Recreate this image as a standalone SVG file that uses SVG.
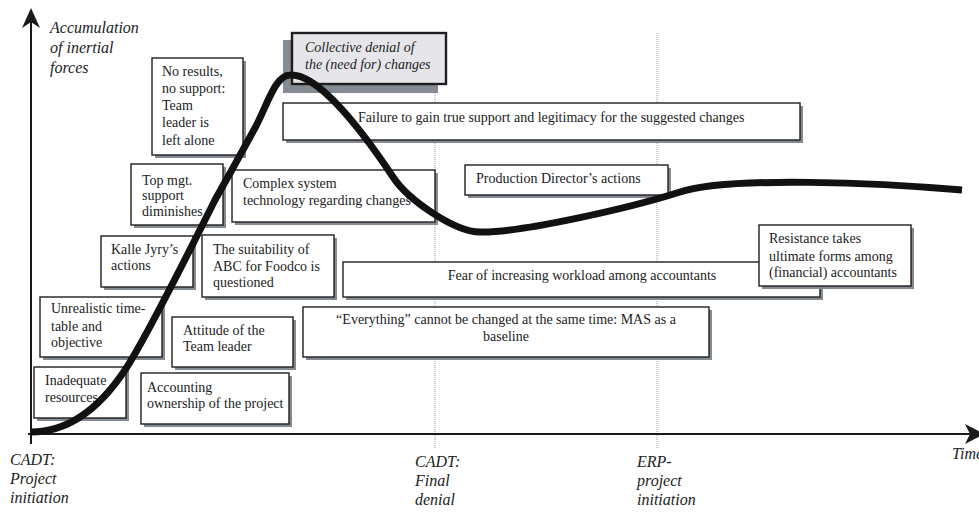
<svg xmlns="http://www.w3.org/2000/svg" width="979" height="512" viewBox="0 0 979 512">
<style>
  .bx{fill:#fff;stroke:#1e1e1e;stroke-width:1.4}
  .sh{fill:#858b93}
  .t{font-family:"Liberation Serif","Times New Roman",serif;font-size:14px;fill:#222}
  .it{font-family:"Liberation Serif","Times New Roman",serif;font-size:16px;font-style:italic;fill:#222}
  .dot{stroke:#9a9a9a;stroke-width:1;stroke-dasharray:1 1;fill:none}
</style>
<rect width="979" height="512" fill="#fff"/>
<g id="guides">
  <line class="dot" x1="435" y1="93" x2="435" y2="448"/>
  <line class="dot" x1="657" y1="33" x2="657" y2="448"/>
</g>
<g id="axes">
  <line x1="31" y1="444" x2="31" y2="20" stroke="#1a1a1a" stroke-width="2"/>
  <path d="M31,8 L22,28 L31,22 L40,28 Z" fill="#1a1a1a"/>
  <line x1="28" y1="434" x2="975" y2="434" stroke="#1a1a1a" stroke-width="2.2"/>
  <path d="M984,434 L965,424 L970,434 L965,444 Z" fill="#1a1a1a"/>
  <text class="it" x="50" y="33">Accumulation</text>
  <text class="it" x="50" y="53">of inertial</text>
  <text class="it" x="50" y="73">forces</text>
  <text class="it" x="952" y="459">Time</text>
  <text class="it" x="10" y="465">CADT:</text>
  <text class="it" x="10" y="484">Project</text>
  <text class="it" x="10" y="503">initiation</text>
  <text class="it" x="415" y="467">CADT:</text>
  <text class="it" x="415" y="486">Final</text>
  <text class="it" x="415" y="505">denial</text>
  <text class="it" x="637" y="467">ERP-</text>
  <text class="it" x="637" y="486">project</text>
  <text class="it" x="637" y="505">initiation</text>
</g>
<g id="n-noresults">
  <rect class="sh" x="155" y="61" width="91" height="97"/>
  <rect class="bx" x="152" y="58" width="91" height="97"/>
  <text class="t" x="162" y="76">No results,</text>
  <text class="t" x="162" y="93">no support:</text>
  <text class="t" x="162" y="110">Team</text>
  <text class="t" x="162" y="127">leader is</text>
  <text class="t" x="162" y="145">left alone</text>
</g>
<g id="n-collective">
  <rect class="sh" x="283" y="40" width="155" height="53"/>
  <rect x="292" y="33" width="154" height="51" fill="#e6e6ea" stroke="#1e1e1e" stroke-width="2.4"/>
  <text class="t" x="305" y="52" font-style="italic">Collective denial of</text>
  <text class="t" x="305" y="69" font-style="italic">the (need for) changes</text>
</g>
<g id="n-failure">
  <rect class="sh" x="286" y="106" width="517" height="37"/>
  <rect class="bx" x="283" y="103" width="517" height="37" stroke-width="2"/>
  <text class="t" x="358" y="122">Failure to gain true support and legitimacy for the suggested changes</text>
</g>
<g id="n-production">
  <rect class="sh" x="468" y="168" width="203" height="30"/>
  <rect class="bx" x="465" y="165" width="203" height="30"/>
  <text class="t" x="476" y="183">Production Director’s actions</text>
</g>
<g id="n-complex">
  <rect class="sh" x="235" y="173" width="203" height="52"/>
  <rect class="bx" x="232" y="170" width="203" height="52"/>
  <text class="t" x="243" y="188">Complex system</text>
  <text class="t" x="243" y="205">technology regarding changes</text>
</g>
<g id="n-topmgt">
  <rect class="sh" x="134" y="167" width="92" height="61"/>
  <rect class="bx" x="131" y="164" width="92" height="61"/>
  <text class="t" x="142" y="185">Top mgt.</text>
  <text class="t" x="142" y="200">support</text>
  <text class="t" x="142" y="216">diminishes</text>
</g>
<g id="n-kalle">
  <rect class="sh" x="104" y="239" width="92" height="51"/>
  <rect class="bx" x="101" y="236" width="92" height="51"/>
  <text class="t" x="111" y="254">Kalle  Jyry’s</text>
  <text class="t" x="111" y="270">actions</text>
</g>
<g id="n-suitability">
  <rect class="sh" x="205" y="238" width="132" height="62"/>
  <rect class="bx" x="202" y="235" width="132" height="62"/>
  <text class="t" x="213" y="254">The suitability of</text>
  <text class="t" x="213" y="271">ABC for Foodco is</text>
  <text class="t" x="213" y="287">questioned</text>
</g>
<g id="n-unrealistic">
  <rect class="sh" x="43" y="300" width="122" height="60"/>
  <rect class="bx" x="40" y="297" width="122" height="60"/>
  <text class="t" x="51" y="313">Unrealistic time-</text>
  <text class="t" x="51" y="331">table and</text>
  <text class="t" x="51" y="347">objective</text>
</g>
<g id="n-attitude">
  <rect class="sh" x="175" y="320" width="121" height="50"/>
  <rect class="bx" x="172" y="317" width="121" height="50"/>
  <text class="t" x="183" y="335">Attitude of the</text>
  <text class="t" x="183" y="351">Team leader</text>
</g>
<g id="n-inadequate">
  <rect class="sh" x="37" y="370" width="92" height="51"/>
  <rect class="bx" x="34" y="367" width="92" height="51"/>
  <text class="t" x="45" y="385">Inadequate</text>
  <text class="t" x="45" y="402">resources</text>
</g>
<g id="n-accounting">
  <rect class="sh" x="144" y="376" width="148" height="51"/>
  <rect class="bx" x="141" y="373" width="148" height="51"/>
  <text class="t" x="147" y="392">Accounting</text>
  <text class="t" x="147" y="408">ownership of the project</text>
</g>
<g id="n-fear">
  <rect class="sh" x="346" y="265" width="477" height="35"/>
  <rect class="bx" x="343" y="262" width="477" height="35"/>
  <text class="t" x="582" y="280" text-anchor="middle">Fear of increasing workload among accountants</text>
</g>
<g id="n-everything">
  <rect class="sh" x="306" y="310" width="406" height="50"/>
  <rect class="bx" x="303" y="307" width="406" height="50"/>
  <text class="t" x="506" y="324" text-anchor="middle">“Everything” cannot be changed at the same time: MAS as a</text>
  <text class="t" x="506" y="341" text-anchor="middle">baseline</text>
</g>
<g id="n-resistance">
  <rect class="sh" x="762" y="228" width="152" height="61"/>
  <rect class="bx" x="759" y="225" width="152" height="61" stroke-width="2.2"/>
  <text class="t" x="769" y="243">Resistance takes</text>
  <text class="t" x="769" y="261">ultimate forms among</text>
  <text class="t" x="769" y="277">(financial) accountants</text>
</g>
<g id="connectors">
  <path d="M31,432 C75,432 105,400 125,370 C145,340 195,240 215,200 C228,177 243,150 255,128 C267,106 275,75 290,75 C315,73 355,120 393,177 C408,200 455,232 480,232 C520,233 630,208 680,192 C730,176 880,183 962,190" fill="none" stroke="#111" stroke-width="7"/>
</g>
</svg>
